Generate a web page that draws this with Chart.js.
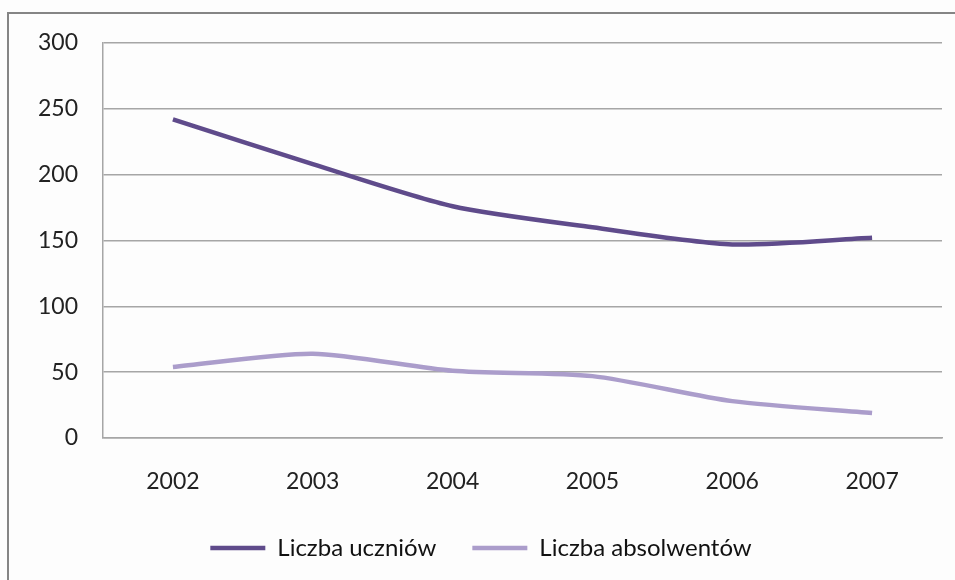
<!DOCTYPE html>
<html>
<head>
<meta charset="utf-8">
<script src="https://cdn.jsdelivr.net/npm/chart.js@4.4.1/dist/chart.umd.min.js"></script>
<style>
  body { margin: 0; background: #fdfdfd; }
  #wrap { position: relative; width: 955px; height: 580px; overflow: hidden; background: #fdfdfd; }
  #frame { position: absolute; left: 7px; top: 12px; width: 1000px; height: 700px; border: 2px solid #858585; }
  #chart { position: absolute; left: 0; top: 0; }
</style>
</head>
<body>
<div id="wrap">
  <div id="frame"></div>
  <canvas id="chart" width="955" height="580"></canvas>
</div>
<script>
/* data */
const years = ['2002', '2003', '2004', '2005', '2006', '2007'];
const uczniowie = [242, 208, 176, 160, 147, 152];
const absolwenci = [54, 64, 51, 47, 28, 19];
const yTicks = [0, 50, 100, 150, 200, 250, 300];

const font = { family: 'Lato, "Open Sans", sans-serif', size: 23 };
const legendFont = { family: 'Lato, "Open Sans", sans-serif', size: 24 };

new Chart(document.getElementById('chart'), {
    type: 'line',
    data: {
        labels: years,
        datasets: [
            {
                label: 'Liczba uczniów',
                data: uczniowie,
                borderColor: '#5f4b8b',
                backgroundColor: '#5f4b8b',
                borderWidth: 4.5,
                pointRadius: 0,
                tension: 0.25,
                fill: false
            },
            {
                label: 'Liczba absolwentów',
                data: absolwenci,
                borderColor: '#ab9dcb',
                backgroundColor: '#ab9dcb',
                borderWidth: 4.5,
                pointRadius: 0,
                tension: 0.25,
                fill: false
            }
        ]
    },
    options: {
        responsive: false,
        animation: false,
        layout: { padding: { left: 20, top: 43, right: 13, bottom: 10 } },
        scales: {
            x: {
                offset: true,
                grid: { display: false, drawTicks: false },
                border: { display: true, color: '#a6a6a6', width: 1.5 },
                ticks: { color: '#222', font, padding: 30, maxRotation: 0 },
                afterFit: (s) => { s.height = 62; }
            },
            y: {
                min: 0,
                max: 300,
                afterBuildTicks: (s) => { s.ticks = yTicks.map(v => ({ value: v })); },
                grid: { color: '#a6a6a6', lineWidth: 1.5, drawTicks: false },
                border: { display: true, color: '#a6a6a6', width: 1.5 },
                ticks: { color: '#222', font, padding: 25 },
                afterFit: (s) => { s.width = 83; }
            }
        },
        plugins: {
            legend: {
                position: 'bottom',
                labels: {
                    usePointStyle: true,
                    pointStyle: 'line',
                    pointStyleWidth: 55,
                    color: '#111',
                    font: legendFont,
                    padding: 36
                }
            },
            tooltip: { enabled: false }
        }
    }
});
</script>
</body>
</html>
